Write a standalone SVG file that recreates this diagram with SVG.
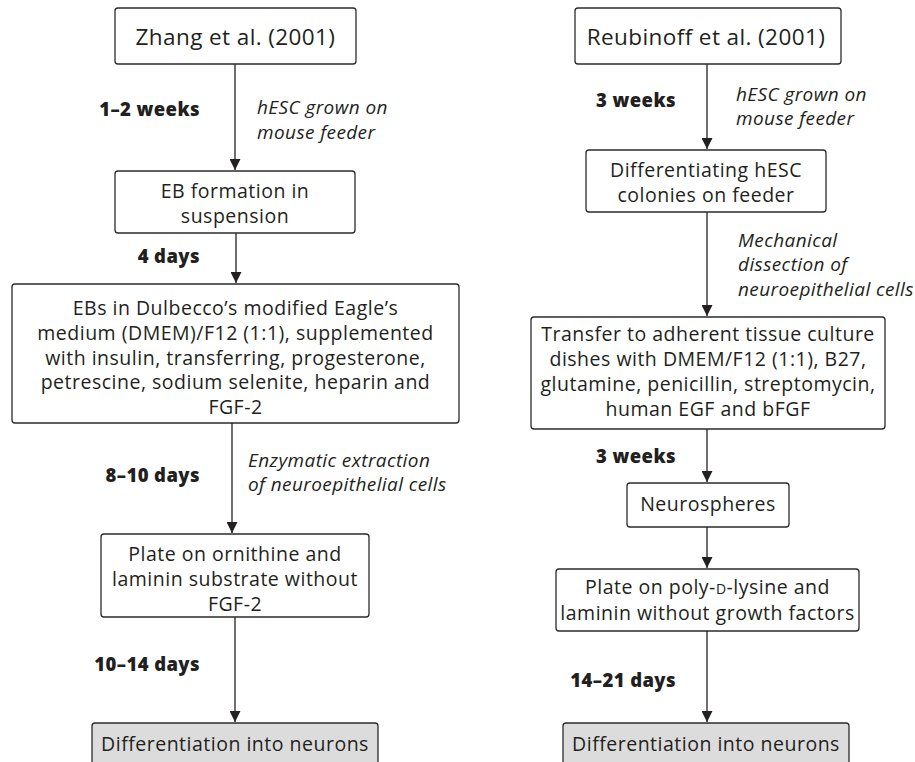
<svg xmlns="http://www.w3.org/2000/svg" width="915" height="762" viewBox="0 0 915 762">
  <style>
    .box { fill: #ffffff; stroke: #2b2b2b; stroke-width: 1.3; }
    .end { fill: #dcdcdc; stroke: #2b2b2b; stroke-width: 1.3; }
    .t { font-family: "Open Sans", "Liberation Sans", sans-serif; font-size: 19.5px; letter-spacing: 0.5px; fill: #231f20; text-anchor: middle; }
    .title { font-size: 22.5px; letter-spacing: 0.4px; }
    .time { font-family: "Open Sans", "Liberation Sans", sans-serif; font-weight: 800; font-size: 18.5px; letter-spacing: 0.4px; fill: #231f20; text-anchor: end; }
    .note { font-family: "Open Sans", "Liberation Sans", sans-serif; font-style: italic; font-size: 19px; letter-spacing: 0.4px; fill: #231f20; }
    .link { stroke: #231f20; stroke-width: 1.3; fill: none; marker-end: url(#arrow); }
  </style>
  <defs>
    <marker id="arrow" markerUnits="userSpaceOnUse" markerWidth="11" markerHeight="11" viewBox="0 0 11 11" refX="11" refY="5.5" orient="auto">
      <path d="M0,0 L11,5.5 L0,11 z" fill="#231f20"/>
    </marker>
  </defs>

  <rect width="915" height="762" fill="#ffffff"/>

  <!-- connectors -->
  <g id="connectors">
    <line class="link" x1="235" y1="64" x2="235" y2="170"/>
    <line class="link" x1="236" y1="233" x2="236" y2="283"/>
    <line class="link" x1="232" y1="423" x2="232" y2="533"/>
    <line class="link" x1="235" y1="617" x2="235" y2="722"/>
    <line class="link" x1="707" y1="64" x2="707" y2="149"/>
    <line class="link" x1="707" y1="212" x2="707" y2="316"/>
    <line class="link" x1="707" y1="429" x2="707" y2="482"/>
    <line class="link" x1="707" y1="527" x2="707" y2="568"/>
    <line class="link" x1="707" y1="631" x2="707" y2="722"/>

    <!-- durations -->
    <text class="time" x="200" y="116">1–2 weeks</text>
    <text class="time" x="200" y="263">4 days</text>
    <text class="time" x="200" y="482">8–10 days</text>
    <text class="time" x="200" y="671">10–14 days</text>
    <text class="time" x="676" y="107">3 weeks</text>
    <text class="time" x="676" y="463">3 weeks</text>
    <text class="time" x="676" y="687">14–21 days</text>

    <!-- step notes -->
    <text class="note" x="257" y="114">hESC grown on</text>
    <text class="note" x="257" y="138.5">mouse feeder</text>
    <text class="note" x="248" y="467">Enzymatic extraction</text>
    <text class="note" x="248" y="491">of neuroepithelial cells</text>
    <text class="note" x="736" y="101">hESC grown on</text>
    <text class="note" x="736" y="125">mouse feeder</text>
    <text class="note" x="738" y="247">Mechanical</text>
    <text class="note" x="738" y="271">dissection of</text>
    <text class="note" x="738" y="296">neuroepithelial cells</text>
  </g>

  <!-- left protocol -->
  <g id="zhang">
    <rect class="box" x="115" y="8" width="241" height="56" rx="3"/>
    <text class="t title" x="235.5" y="45">Zhang et al. (2001)</text>
  </g>
  <g id="eb-formation">
    <rect class="box" x="115" y="171" width="240" height="62" rx="3"/>
    <text class="t" x="235" y="198">EB formation in</text>
    <text class="t" x="235" y="223">suspension</text>
  </g>
  <g id="ebs-dmem">
    <rect class="box" x="12" y="284" width="447" height="139" rx="3"/>
    <text class="t" x="235.5" y="315">EBs in Dulbecco’s modified Eagle’s</text>
    <text class="t" x="235.5" y="340">medium (DMEM)/F12 (1:1), supplemented</text>
    <text class="t" x="235.5" y="364.5">with insulin, transferring, progesterone,</text>
    <text class="t" x="235.5" y="389">petrescine, sodium selenite, heparin and</text>
    <text class="t" x="235.5" y="413.5">FGF-2</text>
  </g>
  <g id="plate-ornithine">
    <rect class="box" x="101" y="534" width="268" height="83" rx="3"/>
    <text class="t" x="235" y="561">Plate on ornithine and</text>
    <text class="t" x="235" y="586">laminin substrate without</text>
    <text class="t" x="235" y="611">FGF-2</text>
  </g>
  <g id="neurons-left">
    <rect class="end" x="92" y="723" width="286" height="50" rx="3"/>
    <text class="t" x="235" y="751">Differentiation into neurons</text>
  </g>

  <!-- right protocol -->
  <g id="reubinoff">
    <rect class="box" x="575" y="8" width="266" height="56" rx="3"/>
    <text class="t title" x="706" y="45">Reubinoff et al. (2001)</text>
  </g>
  <g id="hesc-colonies">
    <rect class="box" x="586" y="150" width="240" height="62" rx="3"/>
    <text class="t" x="706" y="177">Differentiating hESC</text>
    <text class="t" x="706" y="202">colonies on feeder</text>
  </g>
  <g id="adherent-transfer">
    <rect class="box" x="531" y="317" width="354" height="112" rx="3"/>
    <text class="t" x="708" y="341">Transfer to adherent tissue culture</text>
    <text class="t" x="708" y="366">dishes with DMEM/F12 (1:1), B27,</text>
    <text class="t" x="708" y="391">glutamine, penicillin, streptomycin,</text>
    <text class="t" x="708" y="416">human EGF and bFGF</text>
  </g>
  <g id="neurospheres">
    <rect class="box" x="627" y="483" width="162" height="44" rx="3"/>
    <text class="t" x="708" y="511">Neurospheres</text>
  </g>
  <g id="plate-polylysine">
    <rect class="box" x="556" y="569" width="303" height="62" rx="3"/>
    <text class="t" x="707.5" y="594">Plate on poly-<tspan font-size="14px">D</tspan>-lysine and</text>
    <text class="t" x="707.5" y="620">laminin without growth factors</text>
  </g>
  <g id="neurons-right">
    <rect class="end" x="563" y="723" width="286" height="50" rx="3"/>
    <text class="t" x="706" y="751">Differentiation into neurons</text>
  </g>
</svg>
